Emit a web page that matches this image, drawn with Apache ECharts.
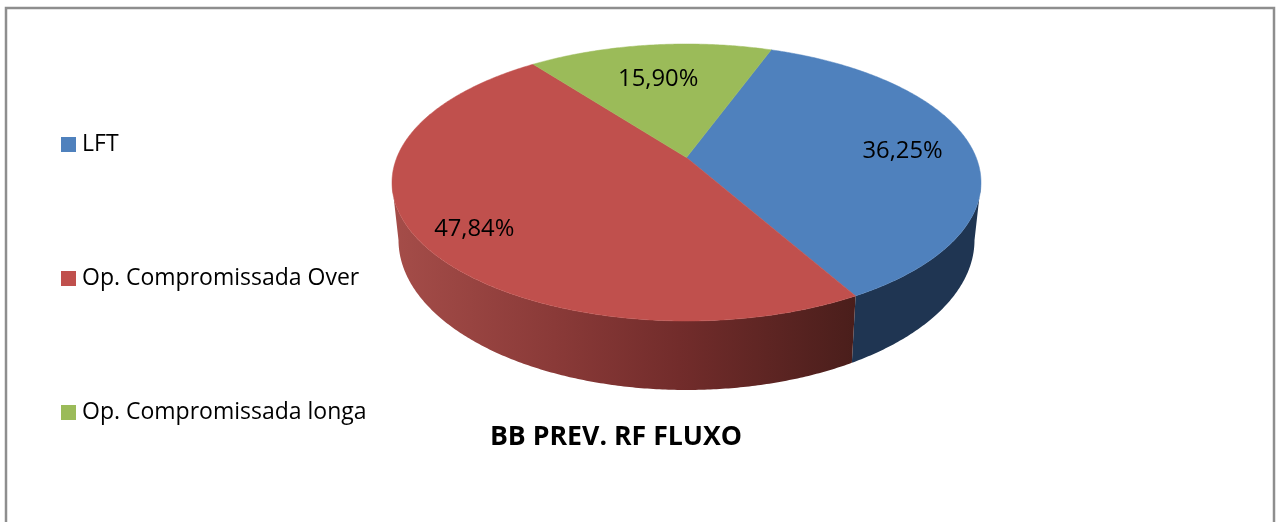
<!DOCTYPE html>
<html>
<head>
<meta charset="utf-8">
<title>BB PREV. RF FLUXO</title>
<style>
  html, body { margin: 0; padding: 0; background: #fff; }
  #main { width: 1279px; height: 522px; }
</style>
<script src="https://cdn.jsdelivr.net/npm/echarts@6/dist/echarts.min.js"></script>
</head>
<body>
<div id="main"></div>
<script>
const categories = ["LFT", "Op. Compromissada Over", "Op. Compromissada longa"];
const shares = [36.25, 47.84, 15.9];
const chartTitle = "BB PREV. RF FLUXO";

const colors = ["#4f81bd", "#c0504d", "#9bbb59"];
// side wall of each slice, green never shows
const wallColors = [
  [[0, "#1f3552"], [1, "#1f3552"]],
  [[0, "#a54d49"], [0.35, "#8a3a38"], [0.62, "#722c2b"], [1, "#4a1e1b"]],
  [[0, "#5f7530"], [1, "#5f7530"]],
];
// label placement: how far out along the slice's middle (1 = rim), and a small turn in degrees
const labelReach = [0.757, 0.82, 0.683];
const labelTurn = [0, -1.8, -0.6];

const FONT = '"Open Sans", sans-serif';
const START_ANGLE = 20; // degrees clockwise from the top
// top face and bottom rim of the tilted disc
const topRim = { cx: 686.5, cy: 182.5, rx: 294.5, ry: 138.5 };
const lowRim = { cx: 686.5, cy: 240, rx: 288, ry: 150 };
// perspective: the disc's centre shows above the middle of the ellipse
const TILT = 0.18;

const total = shares.reduce((a, b) => a + b, 0);

// circle coordinates (radius r, angle in degrees) -> pixels on a rim
function project(rim, angle, r) {
  const rad = (angle * Math.PI) / 180;
  const x = r * Math.sin(rad);
  const y = -r * Math.cos(rad);
  const d = 1 - TILT * y;
  return [
    rim.cx + (rim.rx * x * Math.sqrt(1 - TILT * TILT)) / d,
    rim.cy + (rim.ry * (y - TILT)) / d,
  ];
}

function isFront(angle) {
  const rad = (angle * Math.PI) / 180;
  return -Math.cos(rad) >= TILT;
}

function arcAngles(from, to) {
  const list = [];
  for (let a = from; a < to; a += 0.5) list.push(a);
  list.push(to);
  return list;
}

function renderSlice(index, params, api) {
  const before = shares.slice(0, index).reduce((a, b) => a + b, 0);
  const from = START_ANGLE + (before / total) * 360;
  const to = from + (api.value(0) / total) * 360;
  const angles = arcAngles(from, to);
  const children = [];

  const front = angles.filter(isFront);
  if (front.length > 1) {
    const upper = front.map((a) => project(topRim, a, 1));
    const lower = front.map((a) => project(lowRim, a, 1)).reverse();
    children.push({
      type: "polygon",
      shape: { points: upper.concat(lower) },
      style: {
        fill: new echarts.graphic.LinearGradient(
          0, 0, 1, 0,
          wallColors[index].map((s) => ({ offset: s[0], color: s[1] }))
        ),
      },
    });
  }

  const face = [project(topRim, 0, 0)].concat(angles.map((a) => project(topRim, a, 1)));
  children.push({
    type: "polygon",
    shape: { points: face },
    style: { fill: colors[index], stroke: colors[index], lineWidth: 0.5 },
  });

  const mid = project(topRim, (from + to) / 2 + labelTurn[index], labelReach[index]);
  children.push({
    type: "text",
    style: {
      text: api.value(0).toFixed(2).replace(".", ",") + "%",
      x: mid[0],
      y: mid[1] + 2,
      align: "center",
      verticalAlign: "middle",
      fill: "#000",
      font: "23.8px " + FONT,
    },
  });

  return { type: "group", children: children };
}

const chart = echarts.init(document.getElementById("main"));
chart.setOption({
  animation: false,
  color: colors,
  title: {
    text: chartTitle,
    left: 611,
    top: 419,
    textAlign: "center",
    textStyle: { color: "#000", fontFamily: FONT, fontSize: 26.7, fontWeight: "bold" },
  },
  legend: {
    orient: "vertical",
    left: 61,
    top: 133,
    padding: 0,
    itemWidth: 15,
    itemHeight: 15,
    itemGap: 111,
    icon: "rect",
    data: categories,
    textStyle: { color: "#000", fontFamily: FONT, fontSize: 23, padding: [0, 0, 0, 1] },
    selectedMode: false,
  },
  graphic: [
    {
      type: "rect",
      silent: true,
      shape: { x: 6, y: 8, width: 1268, height: 600 },
      style: { fill: "none", stroke: "#8e8e8e", lineWidth: 2.5 },
    },
  ],
  series: categories.map((name, i) => ({
    type: "custom",
    name: name,
    coordinateSystem: "none",
    silent: true,
    data: [[shares[i]]],
    renderItem: (params, api) => renderSlice(i, params, api),
  })),
});
</script>
</body>
</html>
